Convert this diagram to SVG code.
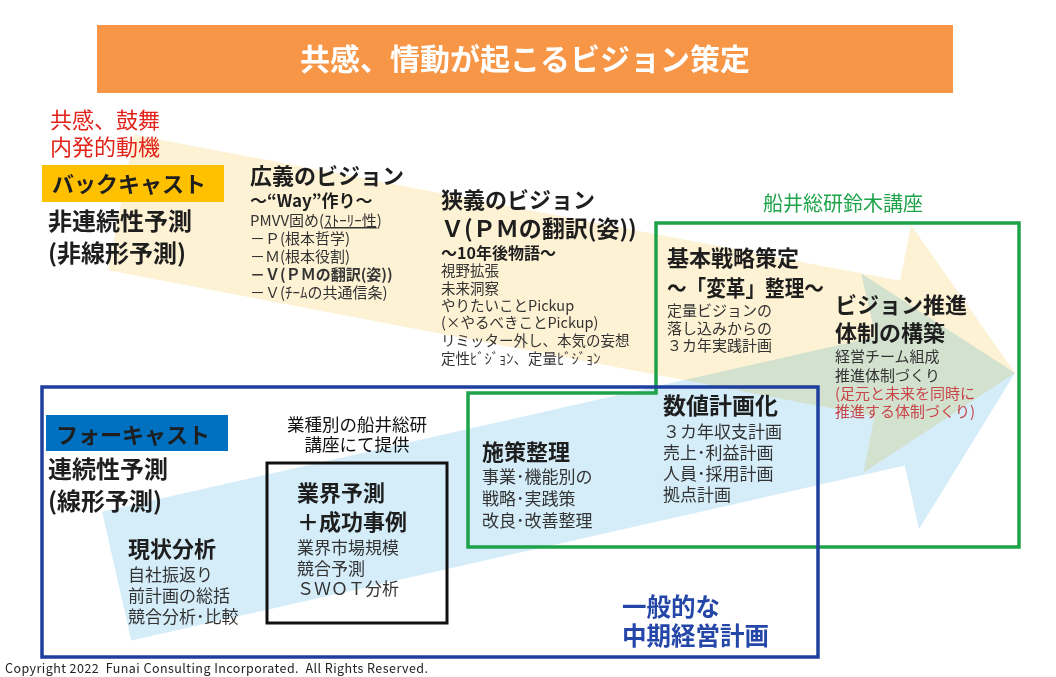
<svg xmlns="http://www.w3.org/2000/svg" width="1056" height="677" viewBox="0 0 1056 677">
<style>
text{font-family:"Noto Sans CJK JP","Noto Sans",sans-serif;fill:#262626}
.h{font-weight:700;font-size:22px;fill:#1e1e1e}
.b{font-size:16px;fill:#333}
.s{font-size:14px;fill:#333}
.red{fill:#e2231a}
.red2{fill:#c8454a}
</style>
<rect width="1056" height="677" fill="#fff"/>
<g id="flow-arrows">
<polygon transform="translate(1015,373) rotate(10.8)" points="0,0 -130,-126 -130,-69 -910,-69 -910,69 -130,69 -130,126" fill="#fef2d4"/>
<polygon transform="translate(1015,373) rotate(-12.74)" points="0,0 -128,131 -128,66 -921,66 -921,-66 -128,-66 -128,-131" fill="#d4edf9" style="mix-blend-mode:multiply"/>
</g>
<g id="title">
<rect x="97" y="25" width="856" height="68" fill="#f79646"/>
<text x="525" y="70" text-anchor="middle" style="font-size:30px;font-weight:700;fill:#fff">共感、情動が起こるビジョン策定</text>
</g>
<g id="motivation">
<text x="50" y="128" class="red" style="font-size:22px">共感、鼓舞</text>
<text x="50" y="155" class="red" style="font-size:22px">内発的動機</text>
</g>
<g id="backcast">
<rect x="42" y="165" width="182" height="37" fill="#ffc000"/>
<text x="52" y="192" class="h">バックキャスト</text>
<text x="48" y="230" class="h" style="font-size:24px">非連続性予測</text>
<text x="48" y="262" class="h" style="font-size:24px">(非線形予測)</text>
</g>
<g id="broad-vision">
<text x="250" y="184" class="h">広義のビジョン</text>
<text x="250" y="207" class="h" style="font-size:17px">〜“Way”作り〜</text>
<text x="250" y="226" class="s" style="font-size:15px">PMVV固め(<tspan text-decoration="underline">ｽﾄｰﾘｰ性</tspan>)</text>
<text x="250" y="244" class="s" style="font-size:15px">－Ｐ(根本哲学)</text>
<text x="250" y="262" class="s" style="font-size:15px">－Ｍ(根本役割)</text>
<text x="250" y="280" class="s" style="font-size:15px;font-weight:700">－Ｖ(ＰＭの翻訳(姿))</text>
<text x="250" y="298" class="s" style="font-size:15px">－Ｖ(ﾁｰﾑの共通信条)</text>
</g>
<g id="narrow-vision">
<text x="441" y="208" class="h">狭義のビジョン</text>
<text x="441" y="237" class="h" style="font-size:23px">Ｖ(ＰＭの翻訳(姿))</text>
<text x="441" y="259" class="h" style="font-size:16px">〜10年後物語〜</text>
<text x="441" y="276" class="s" style="font-size:14.5px">視野拡張</text>
<text x="441" y="294" class="s" style="font-size:14.5px">未来洞察</text>
<text x="441" y="311" class="s" style="font-size:14.5px">やりたいことPickup</text>
<text x="441" y="328" class="s" style="font-size:14.5px">(×やるべきことPickup)</text>
<text x="441" y="346" class="s" style="font-size:14.5px">リミッター外し、本気の妄想</text>
<text x="441" y="364" class="s" style="font-size:14.5px">定性ﾋﾞｼﾞｮﾝ、定量ﾋﾞｼﾞｮﾝ</text>
</g>
<g id="funai-course">
<path d="M656,393 V223 H1019 V547 H468 V393 Z" fill="none" stroke="#1ea34a" stroke-width="3.5"/>
<text x="843" y="211" text-anchor="middle" style="font-size:20px;fill:#1ea34a">船井総研鈴木講座</text>
</g>
<g id="basic-strategy">
<text x="667" y="266" class="h">基本戦略策定</text>
<text x="667" y="296" class="h" textLength="157" lengthAdjust="spacingAndGlyphs">〜「変革」整理〜</text>
<text x="667" y="316" class="b" style="font-size:15px">定量ビジョンの</text>
<text x="667" y="334" class="b" style="font-size:15px">落し込みからの</text>
<text x="667" y="351" class="b" style="font-size:15px">３カ年実践計画</text>
</g>
<g id="vision-system">
<text x="835" y="313" class="h">ビジョン推進</text>
<text x="835" y="341" class="h">体制の構築</text>
<text x="835" y="362" class="b" style="font-size:15px">経営チーム組成</text>
<text x="835" y="381" class="b" style="font-size:15px">推進体制づくり</text>
<text x="835" y="399" class="b red2" style="font-size:15px">(足元と未来を同時に</text>
<text x="835" y="417" class="b red2" style="font-size:15px">推進する体制づくり)</text>
</g>
<g id="general-plan">
<rect x="42" y="387" width="776" height="270" fill="none" stroke="#1f3f9f" stroke-width="3.5"/>
<text x="622" y="616" class="h" style="font-size:24.5px;fill:#2446a8">一般的な</text>
<text x="622" y="645" class="h" style="font-size:24.5px;fill:#2446a8">中期経営計画</text>
</g>
<g id="forecast">
<rect x="46" y="415" width="182" height="36" fill="#0070c0"/>
<text x="56" y="443" class="h">フォーキャスト</text>
<text x="48" y="478" class="h" style="font-size:24px">連続性予測</text>
<text x="48" y="510" class="h" style="font-size:24px">(線形予測)</text>
</g>
<g id="current-analysis">
<text x="128" y="557" class="h">現状分析</text>
<text x="128" y="581" class="b" style="font-size:17px">自社振返り</text>
<text x="128" y="602" class="b" style="font-size:17px">前計画の総括</text>
<text x="128" y="623" class="b" style="font-size:17px">競合分析･比較</text>
</g>
<g id="industry-forecast">
<text x="357" y="431" text-anchor="middle" style="font-size:17.5px;fill:#111">業種別の船井総研</text>
<text x="357" y="451" text-anchor="middle" style="font-size:17.5px;fill:#111">講座にて提供</text>
<rect x="267" y="463" width="180" height="160" fill="none" stroke="#111" stroke-width="3"/>
<text x="297" y="501" class="h">業界予測</text>
<text x="297" y="530" class="h">＋成功事例</text>
<text x="297" y="554" class="b" style="font-size:17px">業界市場規模</text>
<text x="297" y="575" class="b" style="font-size:17px">競合予測</text>
<text x="297" y="595" class="b" style="font-size:17px">ＳＷＯＴ分析</text>
</g>
<g id="measures">
<text x="482" y="460" class="h">施策整理</text>
<text x="482" y="483" class="b" style="font-size:17px">事業･機能別の</text>
<text x="482" y="505" class="b" style="font-size:17px">戦略･実践策</text>
<text x="482" y="527" class="b" style="font-size:17px">改良･改善整理</text>
</g>
<g id="numeric-plan">
<text x="663" y="414" class="h" style="font-size:23px">数値計画化</text>
<text x="663" y="438" class="b" style="font-size:17px">３カ年収支計画</text>
<text x="663" y="459" class="b" style="font-size:17px">売上･利益計画</text>
<text x="663" y="480" class="b" style="font-size:17px">人員･採用計画</text>
<text x="663" y="501" class="b" style="font-size:17px">拠点計画</text>
</g>
<text x="5" y="673" textLength="423" lengthAdjust="spacing" style="font-size:12.5px;fill:#222;white-space:pre">Copyright 2022  Funai Consulting Incorporated.  All Rights Reserved.</text>
</svg>
